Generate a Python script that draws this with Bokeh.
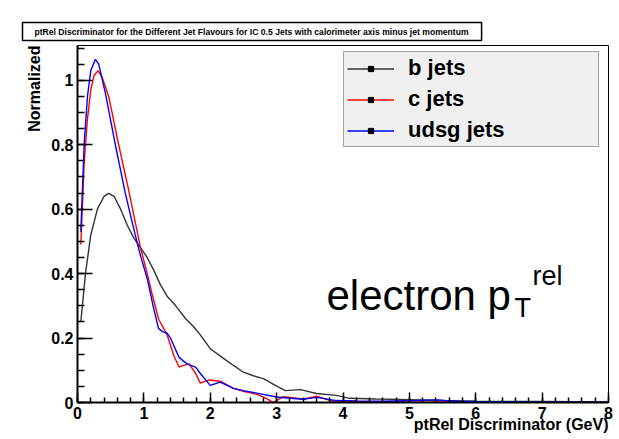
import math
from bokeh.plotting import figure
from bokeh.models import FixedTicker, Label, Legend, LegendItem, Range1d, Title, LinearAxis
from bokeh.embed import file_html
from bokeh.resources import INLINE

# ---- data ----
b_x = [0.05, 0.12, 0.2, 0.3, 0.4, 0.47, 0.55, 0.65, 0.75, 0.85, 0.95, 1.05, 1.15, 1.25, 1.35,
       1.48, 1.63, 1.75, 1.85, 2.0, 2.2, 2.35, 2.5, 2.65, 2.8, 2.98, 3.13, 3.36, 3.6, 3.9,
       4.1, 4.5, 5.0, 5.5, 6.0, 7.0, 8.0]
b_y = [0.25, 0.40, 0.52, 0.60, 0.64, 0.649, 0.64, 0.60, 0.55, 0.51, 0.48, 0.45, 0.41, 0.365, 0.33,
       0.30, 0.26, 0.235, 0.21, 0.167, 0.137, 0.115, 0.094, 0.083, 0.074, 0.053, 0.037, 0.040, 0.028, 0.022,
       0.013, 0.011, 0.009, 0.006, 0.004, 0.003, 0.002]

c_x = [0.05, 0.1, 0.12, 0.15, 0.2, 0.25, 0.31, 0.37, 0.47, 0.62, 0.77, 0.88, 0.95, 1.05, 1.12,
       1.22, 1.35, 1.45, 1.53, 1.6, 1.68, 1.78, 1.85, 1.98, 2.15, 2.35, 2.5, 2.7, 2.85, 2.95,
       3.1, 3.25, 3.4, 3.6, 3.75, 3.86, 4.2, 5.0, 6.0, 7.0, 8.0]
c_y = [0.49, 0.74, 0.80, 0.88, 0.97, 1.015, 1.03, 1.01, 0.95, 0.80, 0.66, 0.55, 0.48, 0.40, 0.34,
       0.26, 0.21, 0.146, 0.11, 0.115, 0.12, 0.09, 0.06, 0.07, 0.066, 0.044, 0.035, 0.026, 0.012, 0.0,
       0.018, 0.015, 0.010, 0.020, 0.010, 0.004, 0.003, 0.002, 0.001, 0.001, 0.0]

u_x = [0.05, 0.1, 0.15, 0.2, 0.27, 0.32, 0.42, 0.57, 0.72, 0.8, 0.87, 0.95, 1.05, 1.15, 1.22,
       1.28, 1.35, 1.40, 1.53, 1.65, 1.78, 1.85, 2.0, 2.15, 2.35, 2.5, 2.7, 3.0, 3.2, 3.4,
       3.6, 3.9, 4.2, 4.6, 5.1, 5.4, 5.7, 6.0, 7.0, 8.0]
u_y = [0.53, 0.80, 0.95, 1.03, 1.065, 1.05, 0.96, 0.80, 0.65, 0.58, 0.52, 0.455, 0.385, 0.29, 0.23,
       0.22, 0.215, 0.20, 0.14, 0.12, 0.11, 0.09, 0.053, 0.063, 0.044, 0.037, 0.029, 0.017, 0.013, 0.010,
       0.016, 0.006, 0.005, 0.004, 0.006, 0.008, 0.004, 0.003, 0.002, 0.001]

series_names = ["b jets", "c jets", "udsg jets"]
series_colors = ["#333333", "#ff0000", "#0000ff"]

x_ticks = [0, 1, 2, 3, 4, 5, 6, 7, 8]
x_tick_labels = ["0", "1", "2", "3", "4", "5", "6", "7", "8"]
x_minor = [round(0.2 * k, 2) for k in range(41)]
y_ticks = [0, 0.2, 0.4, 0.6, 0.8, 1.0]
y_tick_labels = ["0", "0.2", "0.4", "0.6", "0.8", "1"]
y_minor = [round(0.05 * k, 2) for k in range(23)]

title_text = "ptRel Discriminator for the Different Jet Flavours for IC 0.5 Jets with calorimeter axis minus jet momentum"
x_label = "ptRel Discriminator (GeV)"
y_label = "Normalized"

FONT = "Liberation Sans"


def setp(obj, name, val):
    if name in obj.properties():
        try:
            setattr(obj, name, val)
            return True
        except Exception:
            return False
    return False


p = figure(width=619, height=439, output_backend="svg", toolbar_location=None, title=None,
           x_range=Range1d(0, 8), y_range=Range1d(0, 1.108),
           min_border_left=77, min_border_right=11, min_border_top=45, min_border_bottom=37)
p.background_fill_color = "white"
p.border_fill_color = "white"
p.outline_line_color = "black"
p.outline_line_width = 1
p.xgrid.visible = False
p.ygrid.visible = False

xax = p.below[0]
yax = p.left[0]

# invisible spacer axis between frame and title box (keeps the title box at the page top)
spacer = LinearAxis(ticker=FixedTicker(ticks=[], minor_ticks=[]), axis_line_color=None,
                    major_tick_line_color=None, minor_tick_line_color=None,
                    major_label_text_alpha=0,
                    major_tick_in=0, major_tick_out=19, minor_tick_in=0, minor_tick_out=0)
p.add_layout(spacer, "above")

# title box
t = Title(text=title_text, align="left", offset=-55, vertical_align="top", standoff=6,
          text_font=FONT, text_font_style="bold", text_font_size="8.6px", text_color="black")
setp(t, "background_fill_color", "white")
setp(t, "border_line_color", "black")
setp(t, "border_line_width", 1.5)
if not setp(t, "padding", dict(left=12, right=13, top=4, bottom=4)):
    setp(t, "padding", 4)
p.add_layout(t, "above")

xax.ticker = FixedTicker(ticks=x_ticks, minor_ticks=x_minor)
yax.ticker = FixedTicker(ticks=y_ticks, minor_ticks=y_minor)
xax.major_label_overrides = dict(zip(x_ticks, x_tick_labels))
yax.major_label_overrides = dict(zip(y_ticks, y_tick_labels))

for ax in (xax, yax):
    ax.axis_line_color = "black"
    ax.axis_line_width = 2
    ax.major_tick_out = 0
    ax.minor_tick_out = 0
    ax.major_tick_line_width = 1.5
    ax.minor_tick_line_width = 1.5
    ax.major_label_text_font = FONT
    ax.major_label_text_font_style = "bold"
    ax.major_label_text_font_size = "16px"
    ax.major_label_text_color = "black"
    ax.major_label_standoff = 4
xax.major_tick_in = 10
xax.minor_tick_in = 5
yax.major_tick_in = 15
yax.minor_tick_in = 7

# axis titles (ROOT style: at the far end of each axis)
p.add_layout(Title(text=x_label, align="right", vertical_align="top", standoff=-12,
                   text_font=FONT, text_font_style="bold", text_font_size="16px",
                   text_color="black"), "below")
p.add_layout(Title(text=y_label, align="right", vertical_align="bottom", standoff=12,
                   text_font=FONT, text_font_style="bold", text_font_size="16px",
                   text_color="black"), "left")

items = []
for xs, ys, name, col in zip([b_x, c_x, u_x], [b_y, c_y, u_y], series_names, series_colors):
    r = p.line(xs, ys, line_color=col, line_width=1.4)
    m = p.scatter([float("nan")], [float("nan")], marker="square", size=4,
                  fill_color="black", line_color="black")
    items.append(LegendItem(label=name, renderers=[r, m]))

legend = Legend(items=items, location=(266, 255))
legend.padding = 3
legend.spacing = 5
legend.margin = 0
legend.glyph_width = 47
legend.glyph_height = 13
legend.label_height = 26
legend.label_width = 187
legend.label_standoff = 14
legend.label_text_font = FONT
legend.label_text_font_style = "bold"
legend.label_text_font_size = "22px"
legend.label_text_color = "black"
legend.label_text_baseline = "middle"
legend.background_fill_color = "#f0f0f0"
legend.background_fill_alpha = 1
legend.border_line_color = "#555555"
legend.border_line_width = 1.5
p.add_layout(legend, "center")

# electron p_T^rel
p.add_layout(Label(x=249, y=107, x_units="screen", y_units="screen", text="electron p",
                   text_font=FONT, text_font_size="42px", text_color="black",
                   text_baseline="alphabetic"))
p.add_layout(Label(x=437, y=95, x_units="screen", y_units="screen", text="T",
                   text_font=FONT, text_font_size="27px", text_color="black",
                   text_baseline="alphabetic"))
p.add_layout(Label(x=455, y=127, x_units="screen", y_units="screen", text="rel",
                   text_font=FONT, text_font_size="27px", text_color="black",
                   text_baseline="alphabetic"))

open("out.html", "w").write(file_html(p, INLINE))
